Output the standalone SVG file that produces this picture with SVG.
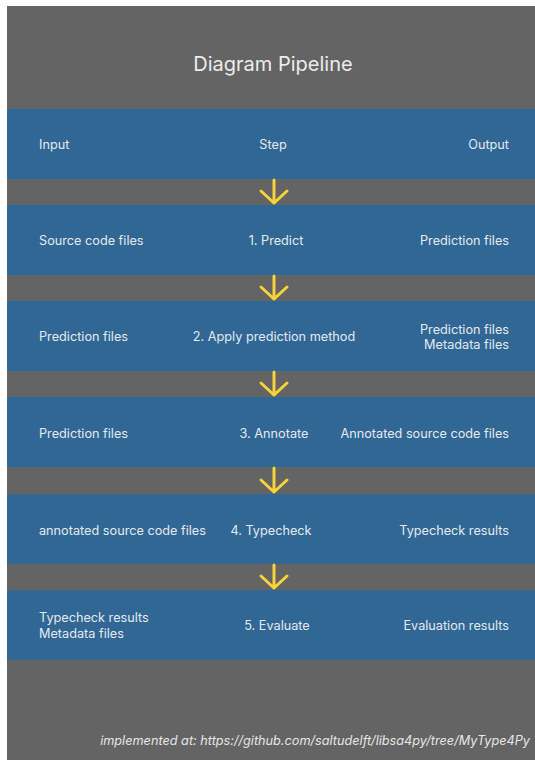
<svg xmlns="http://www.w3.org/2000/svg" width="535" height="760" viewBox="0 0 535 760">
<style>
.band{fill:#306795}
.t{font-family:Inter,"Liberation Sans",sans-serif;font-size:12.7px;fill:#e4e9ef}
.l{text-anchor:start}
.c{text-anchor:middle}
.r{text-anchor:end}
.arr{fill:none;stroke:#f8d23a;stroke-width:3;stroke-linecap:round;stroke-linejoin:round}
</style>
<rect x="0" y="0" width="535" height="760" fill="#ffffff"/>
<rect x="7" y="6" width="528" height="754" fill="#646464"/>
<text x="273" y="71" font-family="Inter,'Liberation Sans',sans-serif" font-size="20" fill="#ececec" text-anchor="middle">Diagram Pipeline</text>
<g id="header">
<rect class="band" x="7" y="109" width="528" height="70"/>
<text class="t l" x="39" y="148.5">Input</text>
<text class="t c" x="273" y="148.5">Step</text>
<text class="t r" x="509" y="148.5">Output</text>
</g>
<g id="step1">
<rect class="band" x="7" y="205" width="528" height="70"/>
<text class="t l" x="39" y="244.5">Source code files</text>
<text class="t c" x="276" y="244.5">1. Predict</text>
<text class="t r" x="509" y="244.5">Prediction files</text>
</g>
<g id="step2">
<rect class="band" x="7" y="301" width="528" height="70"/>
<text class="t l" x="39" y="341">Prediction files</text>
<text class="t c" x="274" y="341">2. Apply prediction method</text>
<text class="t r" x="509" y="333.5">Prediction files</text>
<text class="t r" x="509" y="349">Metadata files</text>
</g>
<g id="step3">
<rect class="band" x="7" y="397" width="528" height="70"/>
<text class="t l" x="39" y="438">Prediction files</text>
<text class="t c" x="274" y="438">3. Annotate</text>
<text class="t r" x="509" y="438">Annotated source code files</text>
</g>
<g id="step4">
<rect class="band" x="7" y="494" width="528" height="70"/>
<text class="t l" x="39" y="534.5">annotated source code files</text>
<text class="t c" x="271" y="534.5">4. Typecheck</text>
<text class="t r" x="509" y="534.5">Typecheck results</text>
</g>
<g id="step5">
<rect class="band" x="7" y="590" width="528" height="70"/>
<text class="t l" x="39" y="622">Typecheck results</text>
<text class="t l" x="39" y="637.5">Metadata files</text>
<text class="t c" x="277" y="629.5">5. Evaluate</text>
<text class="t r" x="509" y="629.5">Evaluation results</text>
</g>
<g id="connectors">
<path class="arr" d="M274 180 V203 M261 191 L274 203 L287 191"/>
<path class="arr" d="M274 276 V299 M261 287 L274 299 L287 287"/>
<path class="arr" d="M274 372 V395 M261 383 L274 395 L287 383"/>
<path class="arr" d="M274 468 V492 M261 480 L274 492 L287 480"/>
<path class="arr" d="M274 565 V588 M261 576 L274 588 L287 576"/>
</g>
<text x="530" y="745" font-family="Inter,'Liberation Sans',sans-serif" font-size="12.7" font-style="italic" fill="#e6e6e6" text-anchor="end">implemented at: https://github.com/saltudelft/libsa4py/tree/MyType4Py</text>
</svg>
